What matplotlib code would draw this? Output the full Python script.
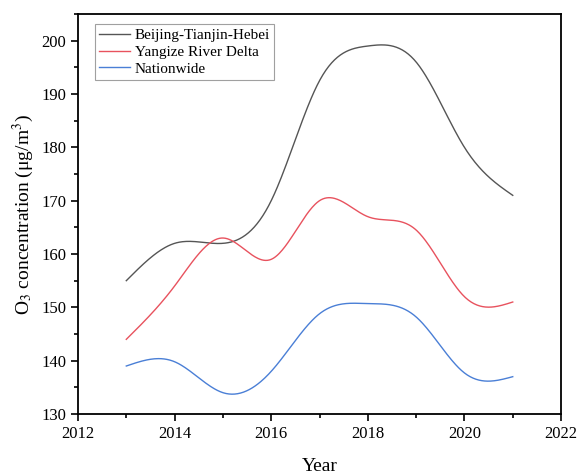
import numpy as np
import matplotlib
matplotlib.use("Agg")
import matplotlib.pyplot as plt
from matplotlib.ticker import MultipleLocator

plt.rcParams["font.family"] = ["Liberation Serif", "DejaVu Serif"]
plt.rcParams["mathtext.fontset"] = "stix"

years = [2013, 2014, 2015, 2016, 2017, 2018, 2019, 2020, 2021]
jjj = [155, 162, 162, 170, 192.5, 199, 196, 180, 171]
yrd = [144, 154, 163, 159, 170, 167, 164.5, 152, 151]
nation = [139, 139.8, 134, 138, 148.8, 150.7, 148.2, 137.7, 137]

labels = ["Beijing-Tianjin-Hebei", "Yangize River Delta", "Nationwide"]
colors = ["#555555", "#e8525e", "#4a7fd6"]


def natural_spline(x, y, xs):
    x = np.asarray(x, float)
    y = np.asarray(y, float)
    n = len(x)
    h = np.diff(x)
    A = np.zeros((n, n))
    b = np.zeros(n)
    A[0, 0] = A[-1, -1] = 1
    for i in range(1, n - 1):
        A[i, i - 1] = h[i - 1]
        A[i, i] = 2 * (h[i - 1] + h[i])
        A[i, i + 1] = h[i]
        b[i] = 3 * ((y[i + 1] - y[i]) / h[i] - (y[i] - y[i - 1]) / h[i - 1])
    c = np.linalg.solve(A, b)
    idx = np.clip(np.searchsorted(x, xs) - 1, 0, n - 2)
    dx = xs - x[idx]
    bb = (y[idx + 1] - y[idx]) / h[idx] - h[idx] * (2 * c[idx] + c[idx + 1]) / 3
    d = (c[idx + 1] - c[idx]) / (3 * h[idx])
    return y[idx] + bb * dx + c[idx] * dx ** 2 + d * dx ** 3


fig = plt.figure(figsize=(5.79, 4.75), dpi=100)
ax = fig.add_axes([0.1347, 0.1284, 0.8343, 0.8421])

xs = np.linspace(years[0], years[-1], 400)
for vals, lab, col in zip([jjj, yrd, nation], labels, colors):
    ax.plot(xs, natural_spline(years, vals, xs), color=col, lw=1.0, label=lab)

ax.set_xlim(2012, 2022)
ax.set_ylim(130, 205)
ax.xaxis.set_major_locator(MultipleLocator(2))
ax.xaxis.set_minor_locator(MultipleLocator(1))
ax.yaxis.set_major_locator(MultipleLocator(10))
ax.yaxis.set_minor_locator(MultipleLocator(5))
ax.tick_params(which="major", direction="out", length=5, width=1.2, labelsize=12)
ax.tick_params(which="minor", direction="out", length=3, width=1.2)
for s in ax.spines.values():
    s.set_linewidth(1.3)

ax.set_xlabel("Year", fontsize=14, labelpad=12)
ax.set_ylabel(r"O$_3$ concentration (μg/m$^3$)", fontsize=14)

leg = ax.legend(loc="upper left", bbox_to_anchor=(0.035, 0.975), fontsize=11,
                frameon=True, fancybox=False, edgecolor="#888888",
                handlelength=2.0, handletextpad=0.3, labelspacing=0.2,
                borderpad=0.3, borderaxespad=0.0)
leg.get_frame().set_linewidth(0.8)

fig.savefig("out.png", dpi=100)
